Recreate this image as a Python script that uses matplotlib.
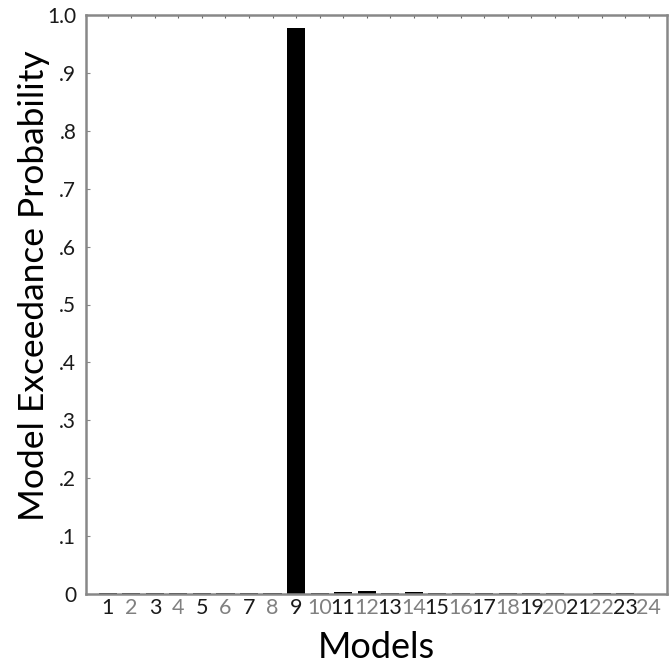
import matplotlib
matplotlib.use("Agg")
import matplotlib.pyplot as plt

models = list(range(1, 25))
probs = [0.001, 0.001, 0.001, 0.001, 0.001, 0.001, 0.001, 0.001, 0.978, 0.001,
         0.003, 0.005, 0.001, 0.003, 0.001, 0.001, 0.001, 0.001, 0.001, 0.001,
         0.0005, 0.001, 0.001, 0.0005]
ytick_vals = [0, 0.1, 0.2, 0.3, 0.4, 0.5, 0.6, 0.7, 0.8, 0.9, 1.0]
ytick_labels = ["0", ".1", ".2", ".3", ".4", ".5", ".6", ".7", ".8", ".9", "1.0"]

plt.rcParams['font.family'] = ['Lato', 'DejaVu Sans']

fig = plt.figure(figsize=(6.7, 6.71), dpi=100)
ax = fig.add_axes([86/670, 1 - 594/671, (667-86)/670, (594-15)/671])

ax.bar(models, probs, width=0.77, color='black')
ax.set_xlim(0.07, 24.77)
ax.set_ylim(0, 1.0)
ax.set_xticks(models)
ax.set_xticklabels([str(m) for m in models], fontsize=15.5)
for i, lab in enumerate(ax.get_xticklabels()):
    lab.set_color('#1a1a1a' if i % 2 == 0 else '#808080')
ax.set_yticks(ytick_vals)
ax.set_yticklabels(ytick_labels, fontsize=15, color='#1a1a1a')
ax.tick_params(axis='x', length=0, pad=3, top=True, direction='in')
ax.tick_params(axis='x', which='major', top=True, length=2, color='#666666')
ax.tick_params(axis='x', bottom=False)
ax.tick_params(axis='y', direction='in', length=3, color='#888888', pad=7)
for s in ax.spines.values():
    s.set_color('#888888')
    s.set_linewidth(1.8)

ax.set_xlabel("Models", fontsize=26)
ax.xaxis.set_label_coords(0.5, (594 - 658) / 579, transform=ax.transAxes)
ax.xaxis.label.set_va('baseline')
ax.set_ylabel("Model Exceedance Probability", fontsize=25.5)
ax.yaxis.set_label_coords((44 - 86) / 581, (594 - 286) / 579, transform=ax.transAxes)
ax.yaxis.label.set_va('baseline')

fig.savefig("out.png", dpi=100)
